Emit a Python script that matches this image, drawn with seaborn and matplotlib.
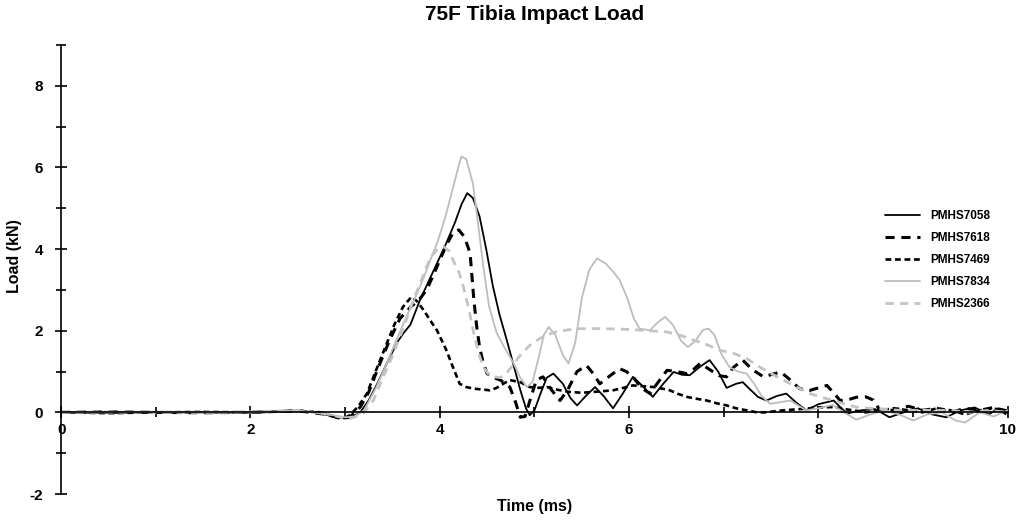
import numpy as np
import pandas as pd
import matplotlib
matplotlib.use('Agg')
import matplotlib.pyplot as plt
import seaborn as sns
from matplotlib.ticker import MultipleLocator

# values (time in ms, load in kN)
t_7058 = [0, 0.5, 1.0, 1.5, 2.0, 2.3, 2.5, 2.7, 2.9, 3.0, 3.1, 3.16, 3.25, 3.35, 3.45, 3.56, 3.62, 3.69,
          3.79, 3.88, 3.97, 4.06, 4.16, 4.23, 4.29, 4.35, 4.42, 4.49, 4.56, 4.63, 4.71, 4.78, 4.85, 4.91,
          4.95, 5.0, 5.07, 5.13, 5.2, 5.3, 5.38, 5.45, 5.55, 5.64, 5.73, 5.83, 5.93, 6.04, 6.14, 6.25,
          6.36, 6.47, 6.56, 6.64, 6.75, 6.85, 6.94, 7.03, 7.13, 7.2, 7.27, 7.36, 7.45, 7.56, 7.66, 7.76,
          7.87, 8.0, 8.16, 8.3, 8.45, 8.6, 8.75, 8.9, 9.05, 9.2, 9.35, 9.5, 9.65, 9.8, 9.9, 10.0]
load_7058 = [0, -0.02, 0, 0, -0.01, 0.02, 0.05, 0.0, -0.12, -0.15, -0.08, 0.0, 0.3, 0.75, 1.25, 1.75, 1.95, 2.15,
             2.75, 3.2, 3.65, 4.1, 4.65, 5.1, 5.37, 5.25, 4.8, 4.0, 3.1, 2.4, 1.75, 1.15, 0.55, 0.1,
             -0.07, 0.05, 0.5, 0.85, 0.95, 0.7, 0.35, 0.17, 0.42, 0.62, 0.4, 0.1, 0.45, 0.87, 0.65, 0.38,
             0.7, 0.99, 0.92, 0.91, 1.12, 1.28, 1.0, 0.6, 0.7, 0.74, 0.58, 0.38, 0.29, 0.4, 0.46, 0.25,
             0.05, 0.2, 0.29, -0.03, 0.05, 0.08, -0.12, 0.0, 0.1, -0.05, -0.12, 0.05, 0.12, -0.05, 0.1, 0.05]

t_7618 = [0, 0.5, 1.0, 1.5, 2.0, 2.5, 2.8, 2.95, 3.05, 3.16, 3.25, 3.35, 3.47, 3.58, 3.7, 3.78, 3.86, 3.93,
          4.0, 4.07, 4.14, 4.2, 4.26, 4.32, 4.36, 4.39, 4.42, 4.46, 4.5, 4.57, 4.64, 4.74, 4.8, 4.85, 4.9,
          4.96, 5.02, 5.09, 5.18, 5.27, 5.35, 5.45, 5.55, 5.62, 5.69, 5.8, 5.9, 5.97, 6.04, 6.13, 6.22,
          6.31, 6.4, 6.5, 6.61, 6.68, 6.75, 6.85, 6.95, 7.03, 7.1, 7.2, 7.3, 7.42, 7.6, 7.7, 7.8, 7.91,
          8.0, 8.09, 8.23, 8.3, 8.4, 8.5, 8.58, 8.65, 8.8, 8.95, 9.1, 9.25, 9.4, 9.55, 9.7, 9.85, 10.0]
load_7618 = [0, 0.01, 0, -0.01, 0, 0.04, -0.05, -0.15, -0.12, 0.13, 0.5, 1.1, 1.77, 2.3, 2.6, 2.75, 3.0, 3.35,
             3.73, 4.1, 4.4, 4.47, 4.3, 3.9, 2.75, 2.1, 1.6, 1.2, 0.95, 0.85, 0.79, 0.62, 0.25, -0.12, -0.1,
             0.35, 0.79, 0.87, 0.55, 0.29, 0.55, 1.0, 1.15, 0.95, 0.7, 0.9, 1.07, 1.0, 0.87, 0.6, 0.46,
             0.75, 1.03, 1.0, 0.95, 1.05, 1.2, 1.05, 0.9, 0.87, 1.1, 1.28, 1.05, 0.87, 0.99, 0.8, 0.58, 0.54,
             0.6, 0.66, 0.29, 0.3, 0.37, 0.38, 0.3, 0.05, 0.05, 0.15, 0.05, 0.1, 0.0, 0.1, 0.05, 0.12, -0.05]

t_7469 = [0, 0.5, 1.0, 1.5, 2.0, 2.5, 2.75, 2.9, 3.0, 3.05, 3.14, 3.23, 3.33, 3.44, 3.52, 3.61, 3.7, 3.76,
          3.83, 3.9, 3.97, 4.07, 4.14, 4.21, 4.28, 4.36, 4.45, 4.53, 4.6, 4.67, 4.74, 4.85, 4.95, 5.05,
          5.13, 5.25, 5.37, 5.5, 5.62, 5.73, 5.83, 5.94, 6.04, 6.15, 6.26, 6.35, 6.43, 6.52, 6.61, 6.72,
          6.82, 6.93, 7.03, 7.13, 7.24, 7.35, 7.45, 7.55, 7.63, 7.75, 7.87, 8.0, 8.16, 8.27, 8.37, 8.5,
          8.65, 8.8, 8.95, 9.1, 9.25, 9.4, 9.55, 9.7, 9.85, 10.0]
load_7469 = [0, -0.02, 0, 0.01, 0, 0.04, 0.0, -0.12, -0.13, -0.07, 0.15, 0.46, 1.05, 1.69, 2.15, 2.58, 2.83, 2.72,
             2.5, 2.25, 2.01, 1.52, 1.1, 0.7, 0.62, 0.58, 0.56, 0.54, 0.6, 0.7, 0.79, 0.74, 0.62, 0.6,
             0.62, 0.55, 0.5, 0.48, 0.5, 0.52, 0.54, 0.6, 0.66, 0.64, 0.62, 0.58, 0.54, 0.45, 0.38, 0.33,
             0.29, 0.22, 0.17, 0.1, 0.05, 0.0, 0.0, 0.03, 0.05, 0.07, 0.09, 0.12, 0.13, 0.08, 0.05, 0.0,
             0.05, 0.1, 0.05, 0.0, 0.1, 0.05, -0.05, 0.05, 0.1, 0.0]

t_7834 = [0, 0.5, 1.0, 1.5, 2.0, 2.5, 2.9, 3.0, 3.1, 3.2, 3.33, 3.44, 3.54, 3.65, 3.76, 3.83, 3.9, 3.98,
          4.06, 4.14, 4.2, 4.23, 4.28, 4.35, 4.4, 4.46, 4.52, 4.6, 4.68, 4.78, 4.85, 4.92, 4.98, 5.05,
          5.1, 5.15, 5.22, 5.3, 5.36, 5.43, 5.5, 5.58, 5.66, 5.75, 5.83, 5.9, 5.98, 6.05, 6.11, 6.22,
          6.3, 6.38, 6.46, 6.55, 6.62, 6.7, 6.78, 6.84, 6.9, 6.98, 7.06, 7.15, 7.24, 7.32, 7.4, 7.49,
          7.6, 7.7, 7.8, 7.87, 8.0, 8.15, 8.27, 8.4, 8.55, 8.7, 8.85, 9.0, 9.15, 9.3, 9.45, 9.55, 9.7,
          9.85, 10.0]
load_7834 = [0, 0.0, 0.01, 0, 0.0, 0.05, -0.08, -0.12, -0.1, 0.05, 0.62, 1.2, 1.77, 2.35, 2.91, 3.3, 3.73, 4.2,
             4.8, 5.5, 6.05, 6.27, 6.2, 5.6, 4.7, 3.57, 2.6, 1.95, 1.6, 1.2, 0.85, 0.62, 0.75, 1.4,
             1.9, 2.09, 1.9, 1.4, 1.2, 1.7, 2.8, 3.5, 3.77, 3.65, 3.45, 3.24, 2.8, 2.3, 2.05, 2.01,
             2.2, 2.34, 2.15, 1.75, 1.6, 1.75, 2.02, 2.05, 1.9, 1.4, 1.11, 1.0, 0.95, 0.7, 0.4, 0.21,
             0.25, 0.29, 0.15, 0.05, 0.1, 0.18, 0.0, -0.18, -0.05, 0.05, -0.05, -0.2, -0.05, 0.0, -0.2, -0.25, 0.0,
             -0.1, 0.05]

t_2366 = [0, 0.5, 1.0, 1.5, 2.0, 2.5, 2.8, 2.95, 3.05, 3.15, 3.2, 3.3, 3.4, 3.51, 3.62, 3.72, 3.8, 3.86,
          3.92, 3.97, 4.04, 4.1, 4.14, 4.2, 4.25, 4.3, 4.36, 4.41, 4.46, 4.52, 4.57, 4.64, 4.7, 4.77,
          4.85, 4.95, 5.05, 5.13, 5.23, 5.35, 5.48, 5.7, 5.9, 6.01, 6.2, 6.4, 6.55, 6.68, 6.8, 6.96,
          7.1, 7.24, 7.38, 7.5, 7.63, 7.77, 7.91, 8.03, 8.16, 8.28, 8.4, 8.55, 8.7, 8.85, 9.0, 9.2,
          9.4, 9.6, 9.8, 10.0]
load_2366 = [0, 0.01, 0, 0.0, 0.01, 0.05, -0.03, -0.12, -0.15, -0.08, 0.0, 0.3, 0.85, 1.44, 2.1, 2.75, 3.2, 3.57,
             3.85, 3.98, 4.06, 3.95, 3.73, 3.45, 3.07, 2.6, 1.93, 1.45, 1.11, 0.92, 0.87, 0.85, 0.95, 1.15,
             1.4, 1.64, 1.8, 1.9, 1.97, 2.02, 2.05, 2.05, 2.04, 2.03, 2.0, 1.97, 1.88, 1.77, 1.68, 1.52,
             1.45, 1.32, 1.11, 0.95, 0.79, 0.62, 0.46, 0.37, 0.29, 0.2, 0.13, 0.1, 0.08, 0.05, 0.05, 0.05,
             0.05, 0.0, 0.05, 0.0]

series = [
    ('PMHS7058', t_7058, load_7058, 'black', 1.3, '-'),
    ('PMHS7618', t_7618, load_7618, 'black', 2.2, (0, (3.0, 2.2))),
    ('PMHS7469', t_7469, load_7469, 'black', 1.9, (0, (2.2, 1.4))),
    ('PMHS7834', t_7834, load_7834, '#bdbdbd', 1.3, '-'),
    ('PMHS2366', t_2366, load_2366, '#c4c4c4', 2.0, (0, (3.0, 2.2))),
]

sns.set_style('white')
plt.rcParams['font.family'] = ['Liberation Sans', 'DejaVu Sans']
plt.rcParams['font.weight'] = 'bold'
plt.rcParams['axes.unicode_minus'] = False
plt.rcParams['text.color'] = 'black'
plt.rcParams['axes.labelcolor'] = 'black'

fig = plt.figure(figsize=(10.19, 5.2), dpi=100)
ax = fig.add_axes([0.06, 0.05, 0.929, 0.8635])

for name, t, load, color, lw, ls in series:
    df = pd.DataFrame({'Time': t, 'Load': load})
    sns.lineplot(data=df, x='Time', y='Load', ax=ax, color=color, linewidth=lw,
                 linestyle=ls, label=name, estimator=None, sort=False)

ax.set_xlim(0, 10)
ax.set_ylim(-2, 9)
ax.xaxis.set_major_locator(MultipleLocator(2))
ax.xaxis.set_minor_locator(MultipleLocator(1))
ax.yaxis.set_major_locator(MultipleLocator(2))
ax.yaxis.set_minor_locator(MultipleLocator(1))

ax.spines['bottom'].set_position(('data', 0))
ax.spines['top'].set_visible(False)
ax.spines['right'].set_visible(False)
for s in ['left', 'bottom']:
    ax.spines[s].set_color('black')
    ax.spines[s].set_linewidth(1.2)

ax.tick_params(which='both', direction='inout', color='black', width=1.2,
               bottom=True, left=True, labelcolor='black')
ax.tick_params(which='major', length=8, labelsize=11)
ax.tick_params(which='minor', length=7)
ax.tick_params(axis='y', which='major', pad=9)
for lab in ax.get_xticklabels() + ax.get_yticklabels():
    lab.set_fontweight('bold')

ax.set_title('75F Tibia Impact Load', fontsize=15, fontweight='bold', pad=0, y=1.055, color='black')
ax.set_xlabel('Time (ms)', fontsize=11.5, fontweight='bold')
ax.set_ylabel('Load (kN)', fontsize=11.5, fontweight='bold')
ax.xaxis.set_label_coords(0.5, -0.012)
ax.yaxis.set_label_coords(-0.041, 0.53)

ax.legend(loc='upper left', bbox_to_anchor=(0.858, 0.617), bbox_transform=fig.transFigure,
          frameon=False, prop={'size': 8.5, 'weight': 'bold'}, handlelength=3.0,
          handletextpad=0.8, labelspacing=0.85)

fig.savefig('out.png', dpi=100)
